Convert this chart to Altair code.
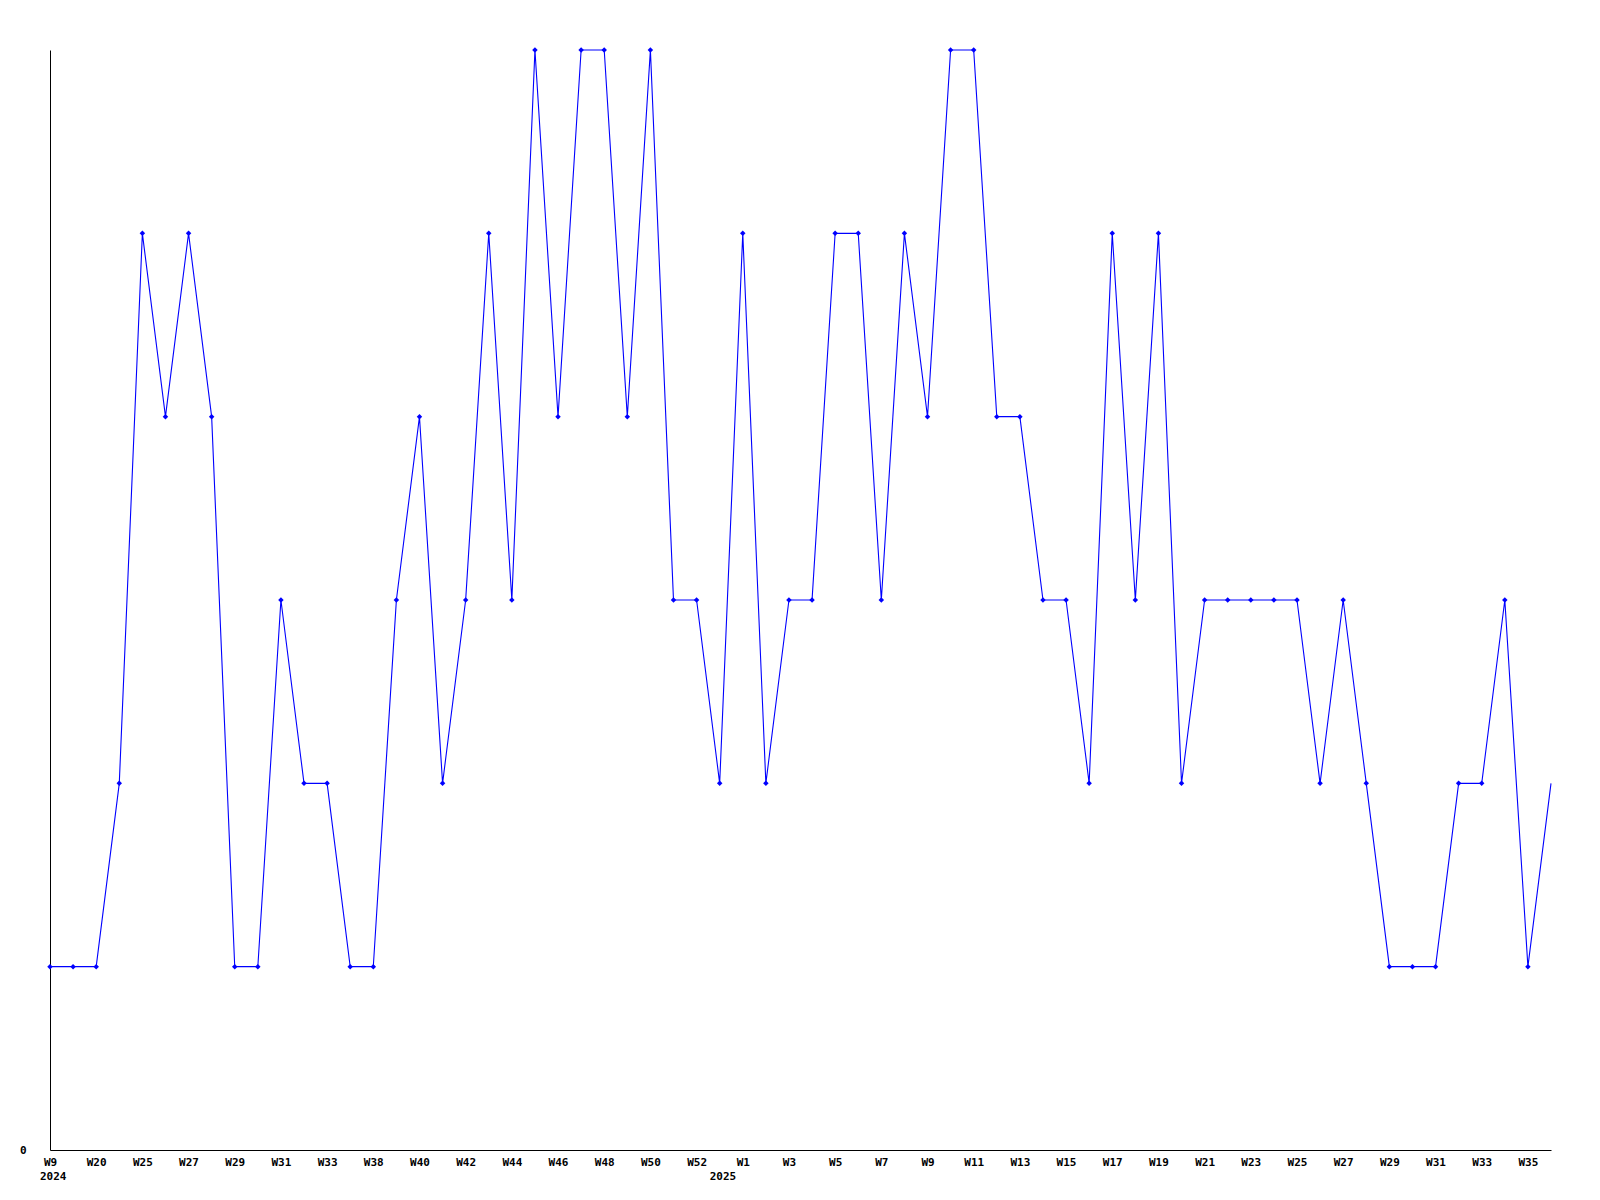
import altair as alt
import pandas as pd

# Week buckets (year, week label) in chart order
years = [2024] * 29 + [2025] * 37
weeks = [
    "W9", "W19", "W20", "W24", "W25", "W26", "W27", "W28", "W29", "W30",
    "W31", "W32", "W33", "W37", "W38", "W39", "W40", "W41", "W42", "W43",
    "W44", "W45", "W46", "W47", "W48", "W49", "W50", "W51", "W52",
    "W0", "W1", "W2", "W3", "W4", "W5", "W6", "W7", "W8", "W9",
    "W10", "W11", "W12", "W13", "W14", "W15", "W16", "W17", "W18", "W19",
    "W20", "W21", "W22", "W23", "W24", "W25", "W26", "W27", "W28", "W29",
    "W30", "W31", "W32", "W33", "W34", "W35", "W36",
]
values = [
    1, 1, 1, 2, 5, 4, 5, 4, 1, 1,
    3, 2, 2, 1, 1, 3, 4, 2, 3, 5,
    3, 6, 4, 6, 6, 4, 6, 3, 3,
    2, 5, 2, 3, 3, 5, 5, 3, 5, 4,
    6, 6, 4, 4, 3, 3, 2, 5, 3, 5,
    2, 3, 3, 3, 3, 3, 2, 3, 2, 1,
    1, 1, 2, 2, 3, 1, 2,
]
# Weeks shown on the x axis
tick_labels = [
    "2024-W9", "2024-W20", "2024-W25", "2024-W27", "2024-W29", "2024-W31",
    "2024-W33", "2024-W38", "2024-W40", "2024-W42", "2024-W44", "2024-W46",
    "2024-W48", "2024-W50", "2024-W52", "2025-W1", "2025-W3", "2025-W5",
    "2025-W7", "2025-W9", "2025-W11", "2025-W13", "2025-W15", "2025-W17",
    "2025-W19", "2025-W21", "2025-W23", "2025-W25", "2025-W27", "2025-W29",
    "2025-W31", "2025-W33", "2025-W35",
]
# Year captions placed under the first bucket of each year
year_keys = ["2024-W9", "2025-W0"]
year_text = ["2024", "2025"]

keys = [f"{y}-{w}" for y, w in zip(years, weeks)]
df = pd.DataFrame({"key": keys, "value": values})
df["marked"] = [True] * (len(keys) - 1) + [False]
ydf = pd.DataFrame({"key": year_keys, "text": year_text})

FONT = "DejaVu Sans Mono"
W, H = 1501, 1100
BLUE = "#0000ff"

xenc = alt.X(
    "key:O",
    sort=keys,
    scale=alt.Scale(type="point", padding=0, domain=keys),
    axis=alt.Axis(
        values=tick_labels,
        labelExpr="split(datum.value, '-')[1]",
        ticks=False,
        labelAngle=0,
        title=None,
        labelFont=FONT,
        labelFontWeight="bold",
        labelFontSize=11,
        labelColor="#000000",
        labelPadding=6,
        labelBaseline="top",
        labelOverlap=False,
        domainColor="#000000",
        domainWidth=1,
        grid=False,
    ),
)
yenc = alt.Y(
    "value:Q",
    scale=alt.Scale(domain=[0, 6], nice=False, zero=True),
    axis=alt.Axis(
        values=[0],
        ticks=False,
        grid=False,
        title=None,
        labelFont=FONT,
        labelFontWeight="bold",
        labelFontSize=11,
        labelColor="#000000",
        labelPadding=24,
        domainColor="#000000",
        domainWidth=1,
    ),
)

base = alt.Chart(df).encode(x=xenc, y=yenc)
line = base.mark_line(color=BLUE, strokeWidth=1.1)
pts = base.transform_filter("datum.marked").mark_point(
    shape="diamond", filled=True, size=30, color=BLUE, opacity=1
)
yrs = alt.Chart(ydf).mark_text(
    align="left", baseline="top", dx=-10, font=FONT, fontWeight="bold",
    fontSize=11, color="#000000"
).encode(
    x=alt.X("key:O", sort=keys),
    y=alt.value(H + 21),
    text="text:N",
)

chart = (
    alt.layer(line, pts, yrs)
    .properties(
        width=W,
        height=H,
        autosize=alt.AutoSizeParams(type="none"),
        padding={"left": 42, "top": 42, "right": 40, "bottom": 40},
        background="#ffffff",
    )
    .configure_view(stroke=None)
)

chart.save("out.html", embed_options={"renderer": "svg", "actions": False})
